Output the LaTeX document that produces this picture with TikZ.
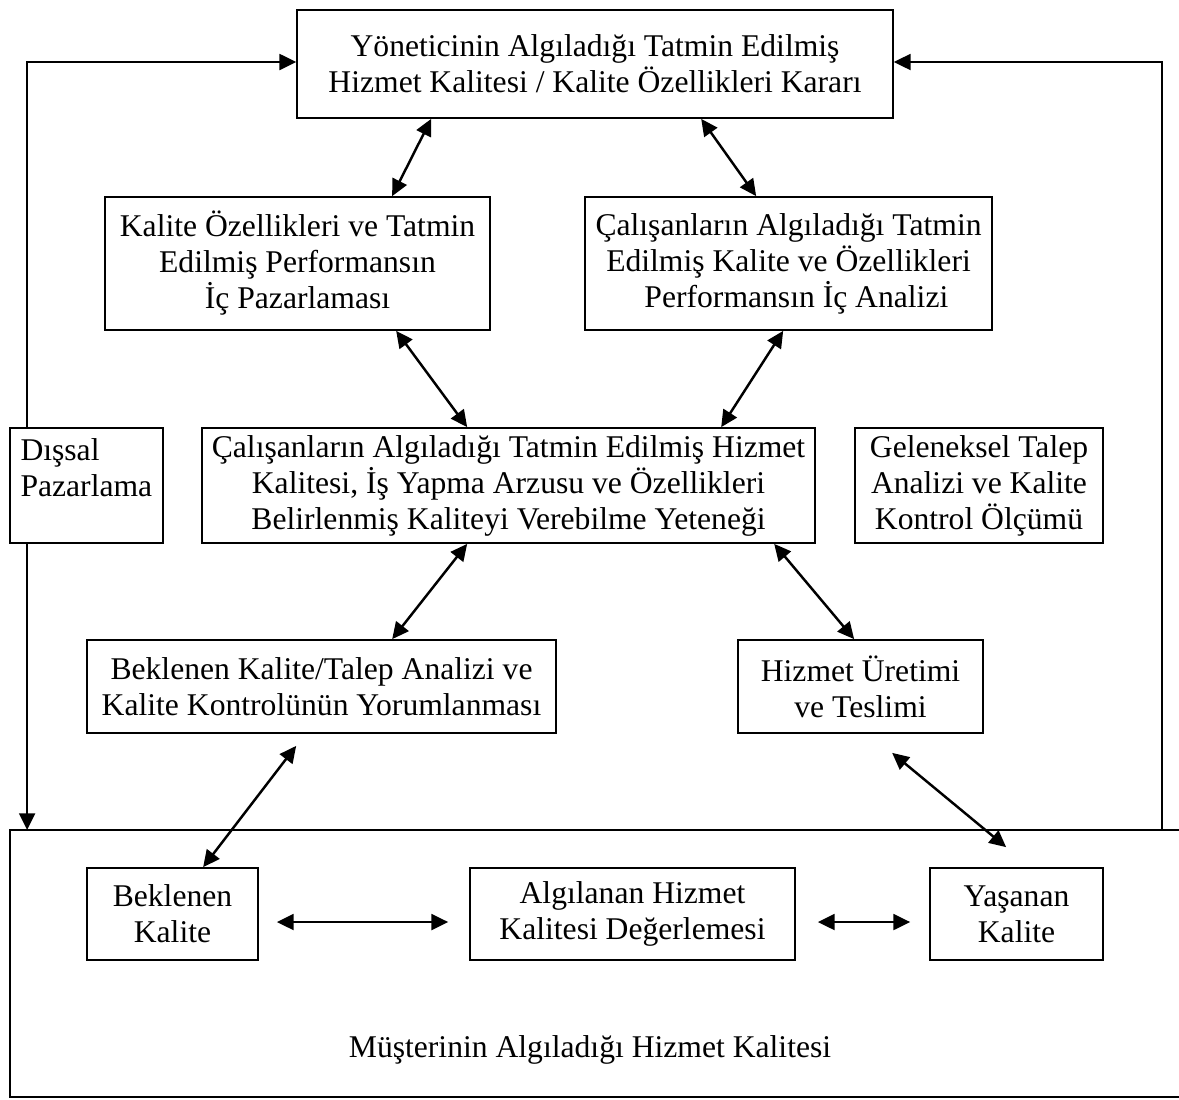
\documentclass[tikz,border=0pt]{standalone}
\usepackage{fontspec}
\setmainfont{Liberation Serif}
\usepackage{tikz}
\usetikzlibrary{calc}
\usetikzlibrary{arrows.meta}

\tikzset{
    kutu/.style={draw,line width=1pt,align=center,inner sep=2pt,
        font=\fontsize{18}{20.5}\selectfont},
    ok/.style={{Triangle[length=9.5pt,width=9pt]}-{Triangle[length=9.5pt,width=9pt]},line width=1.4pt},
    tekok/.style={-{Triangle[length=9.5pt,width=9pt]},line width=1.4pt}
}

\begin{document}
\begin{tikzpicture}[x=0.02cm,y=-0.02cm]
\useasboundingbox (0,0) rectangle (1179,1099);
% kutular
\node[kutu,minimum width=11.92cm,minimum height=2.16cm] (karar) at (595,64) {Yöneticinin Algıladığı Tatmin Edilmiş\\Hizmet Kalitesi / Kalite Özellikleri Kararı};
\node[kutu,minimum width=7.7cm,minimum height=2.66cm] (icpaz) at (297.5,263.5) {Kalite Özellikleri ve Tatmin\\Edilmiş Performansın\\İç Pazarlaması};
\node[kutu,minimum width=8.14cm,minimum height=2.66cm] (icanaliz) at (788.5,263.5) {Çalışanların Algıladığı Tatmin\\Edilmiş Kalite ve Özellikleri\\\ \ Performansın İç Analizi};
\node[kutu,minimum width=12.26cm,minimum height=2.3cm] (calisan) at (508.5,485.5) {Çalışanların Algıladığı Tatmin Edilmiş Hizmet\\Kalitesi, İş Yapma Arzusu ve Özellikleri\\Belirlenmiş Kaliteyi Verebilme Yeteneği};
\node[kutu,minimum width=3.06cm,minimum height=2.3cm,text width=2.64cm,align=left] (dissal) at (86.5,485.5) {Dışsal\\Pazarlama\\\mbox{}};
\node[kutu,minimum width=4.96cm,minimum height=2.3cm] (geleneksel) at (979,485.5) {Geleneksel Talep\\Analizi ve Kalite\\Kontrol Ölçümü};
\node[kutu,minimum width=9.38cm,minimum height=1.86cm] (yorum) at (321.5,686.5) {Beklenen Kalite/Talep Analizi ve\\Kalite Kontrolünün Yorumlanması};
\node[kutu,minimum width=4.9cm,minimum height=1.86cm] (uretim) at (860.5,686.5) {Hizmet Üretimi\\ve Teslimi};
% musteri bolumu
\coordinate (mnw) at (10,830);
\coordinate (msw) at (10,1097);
\draw[line width=1pt] (1179,830) -- (mnw) -- (msw) -- (1179,1097);
\node[font=\fontsize{18}{20.5}\selectfont] (musteri) at (590,1050) {Müşterinin Algıladığı Hizmet Kalitesi};
\node[kutu,minimum width=3.42cm,minimum height=1.84cm] (beklenen) at (172.5,914) {Beklenen\\Kalite};
\node[kutu,minimum width=6.5cm,minimum height=1.84cm] (algilanan) at (632.5,914) {Algılanan Hizmet\\Kalitesi Değerlemesi};
\node[kutu,minimum width=3.46cm,minimum height=1.84cm] (yasanan) at (1016.5,914) {Yaşanan\\Kalite};
% oklar
\draw[ok] ($(karar.south west)+(135,0)$) -- ($(icpaz.north west)+(288,0)$);
\draw[ok] ($(karar.south west)+(405,0)$) -- ($(icanaliz.north west)+(172,0)$);
\draw[ok] ($(icpaz.south west)+(292,0)$) -- ($(calisan.north west)+(266,0)$);
\draw[ok] ($(icanaliz.south west)+(199,0)$) -- ($(calisan.north west)+(520,0)$);
\draw[ok] ($(calisan.south west)+(266,0)$) -- ($(yorum.north west)+(306,0)$);
\draw[ok] ($(calisan.south west)+(573,0)$) -- ($(uretim.north west)+(117,0)$);
\draw[ok] ($(yorum.south west)+(210,12)$) -- ($(beklenen.north west)+(117,0)$);
\draw[ok] ($(uretim.south west)+(155,19)$) -- ($(yasanan.north west)+(77,-20)$);
\draw[ok] ($(beklenen.east)+(18,8)$) -- ($(algilanan.west)+(-21,8)$);
\draw[ok] ($(algilanan.east)+(22,8)$) -- ($(yasanan.west)+(-19,8)$);
% geri besleme
\coordinate (dalt) at ($(dissal.south west)+(18,0)$);
\draw[tekok] ($(dissal.north west)+(18,0)$) |- ($(karar.west)+(0,-2)$);
\draw[tekok] (dalt) -- (dalt |- mnw);
\draw[tekok] (1162,830) |- ($(karar.east)+(0,-2)$);
\end{tikzpicture}
\end{document}
